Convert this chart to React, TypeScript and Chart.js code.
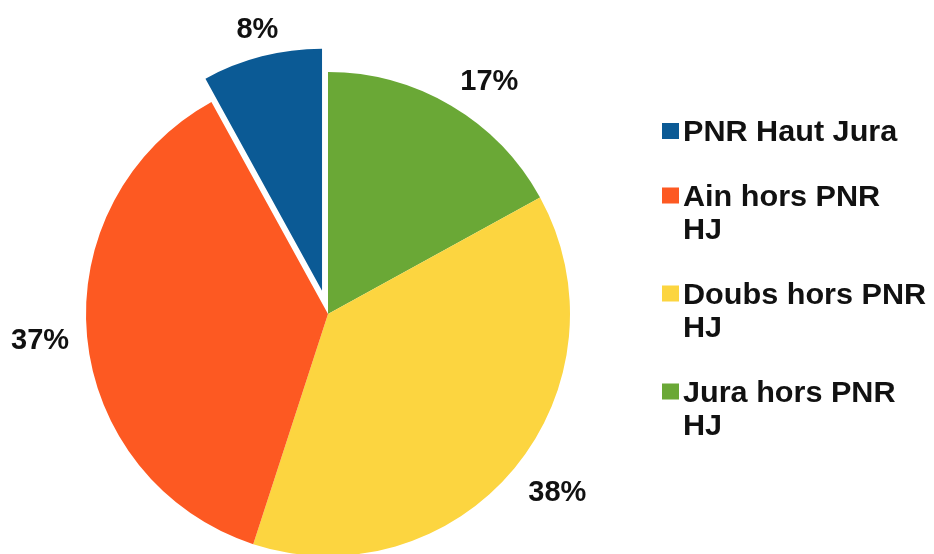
import React, { useEffect, useRef } from "react";
import { Chart, registerables } from "chart.js";

Chart.register(...registerables);

// Data (clockwise from 12 o'clock)
const categories: string[][] = [
  ["Jura hors PNR", "HJ"],
  ["Doubs hors PNR", "HJ"],
  ["Ain hors PNR", "HJ"],
  ["PNR Haut Jura"],
];
const shares = [17, 38, 37, 8];
const sliceColors = ["#6aa836", "#fcd540", "#fd5922", "#0b5a95"];
const legendOrder = [3, 2, 1, 0];
const explodeBy = [0, 0, 0, 24];

const FONT_SIZE = 29;
const FONT = `bold ${FONT_SIZE}px "Liberation Sans", Arial, Helvetica, sans-serif`;
const LEGEND_FONT = `bold 30px "Liberation Sans", Arial, Helvetica, sans-serif`;
const TEXT_COLOR = "#111111";

const explodePlugin = {
  id: "explodeSlices",
  afterDatasetsUpdate(chart: any) {
    const meta = chart.getDatasetMeta(0);
    meta.data.forEach((arc: any, i: number) => {
      const d = explodeBy[i] || 0;
      if (!d) return;
      const mid = (arc.startAngle + arc.endAngle) / 2;
      arc.x += Math.cos(mid) * d;
      arc.y += Math.sin(mid) * d;
    });
  },
};

const clampDir = (c: number) => {
  const a = Math.min(Math.max((Math.abs(c) - 0.25) / 0.25, 0), 1);
  return Math.sign(c) * a;
};

const percentLabelPlugin = {
  id: "percentLabels",
  afterDatasetsDraw(chart: any) {
    const ctx = chart.ctx;
    const meta = chart.getDatasetMeta(0);
    const values = chart.data.datasets[0].data as number[];
    ctx.save();
    ctx.font = FONT;
    ctx.fillStyle = TEXT_COLOR;
    ctx.textAlign = "center";
    ctx.textBaseline = "alphabetic";
    meta.data.forEach((arc: any, i: number) => {
      const mid = (arc.startAngle + arc.endAngle) / 2;
      const ux = Math.cos(mid);
      const uy = Math.sin(mid);
      const dist = arc.outerRadius + 18;
      const px = arc.x + ux * dist;
      const py = arc.y + uy * dist;
      const text = `${values[i]}%`;
      const hw = ctx.measureText(text).width / 2;
      const hh = 11;
      const cx = px + clampDir(ux) * hw;
      const cy = py + clampDir(uy) * hh;
      ctx.fillText(text, cx, cy + FONT_SIZE * 0.358);
    });
    ctx.restore();
  },
};

const legendPlugin = {
  id: "sideLegend",
  afterDraw(chart: any) {
    const ctx = chart.ctx;
    const labels = chart.data.labels as string[][];
    const colors = chart.data.datasets[0].backgroundColor as string[];
    const boxX = 662;
    const textX = 683;
    const lineH = 33.5;
    const gap = 31;
    let baseline = 141;
    ctx.save();
    ctx.font = LEGEND_FONT;
    ctx.textAlign = "left";
    ctx.textBaseline = "alphabetic";
    legendOrder.forEach((idx) => {
      ctx.fillStyle = colors[idx];
      ctx.fillRect(boxX, baseline - 18, 17, 16);
      ctx.fillStyle = TEXT_COLOR;
      const lines = labels[idx];
      lines.forEach((line, j) => {
        ctx.save();
        ctx.translate(textX, baseline + j * lineH);
        ctx.scale(1.02, 1);
        ctx.fillText(line, 0, 0);
        ctx.restore();
      });
      baseline += lines.length * lineH + gap;
    });
    ctx.restore();
  },
};

export default function App() {
  const canvasRef = useRef<HTMLCanvasElement | null>(null);

  useEffect(() => {
    document.body.style.margin = "0";
    const canvas = canvasRef.current;
    if (!canvas) return;
    const chart = new Chart(canvas, {
      type: "pie",
      data: {
        labels: categories as any,
        datasets: [
          {
            data: shares,
            backgroundColor: sliceColors,
            borderWidth: 0,
            radius: 242,
            clip: false,
          } as any,
        ],
      },
      options: {
        responsive: false,
        animation: false,
        events: [],
        layout: { padding: { left: 0, right: 278, top: 74, bottom: 0 } },
        plugins: {
          legend: { display: false },
          tooltip: { enabled: false },
          title: { display: false },
        },
      } as any,
      plugins: [explodePlugin, percentLabelPlugin, legendPlugin],
    });
    return () => chart.destroy();
  }, []);

  return (
    <div style={{ position: "fixed", left: 0, top: 0, width: 934, height: 554, background: "#ffffff" }}>
      <canvas ref={canvasRef} width={934} height={554} style={{ display: "block" }} />
    </div>
  );
}
